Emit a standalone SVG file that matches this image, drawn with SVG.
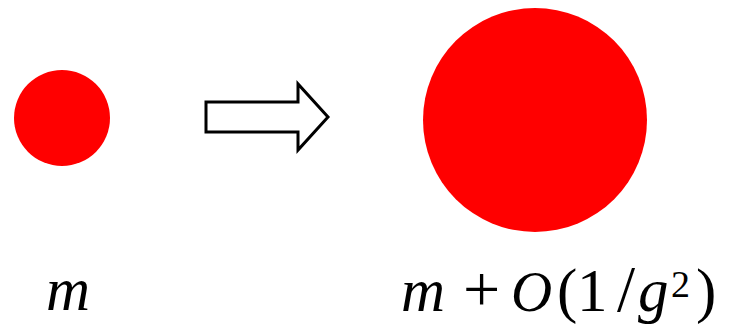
<svg xmlns="http://www.w3.org/2000/svg" width="736" height="325" viewBox="0 0 736 325">
<style>
.dot{fill:#ff0000}
.arr{fill:#fff;stroke:#000;stroke-width:3;stroke-linejoin:miter}
.t{font-family:"Liberation Serif","DejaVu Serif",serif;font-size:61px;fill:#000}
.i{font-style:italic}
</style>
<rect width="736" height="325" fill="#fff"/>
<g id="small"><circle class="dot" cx="62" cy="118" r="48"/></g>
<g id="connectors"><path class="arr" d="M206,102 H298 V84 L328,117 L298,150 V132 H206 Z"/></g>
<g id="large"><circle class="dot" cx="535" cy="120" r="112"/></g>
<g id="label-m"><text class="t i" x="46" y="310">m</text></g>
<g id="label-big"><text class="t" y="311"><tspan class="i" x="401">m</tspan><tspan x="463" font-size="66">+</tspan><tspan class="i" x="511" font-size="57">O</tspan><tspan x="557" font-size="61">(</tspan><tspan x="577">1</tspan><tspan x="617" font-size="65">/</tspan><tspan class="i" x="638">g</tspan><tspan x="671" y="297" font-size="38">2</tspan><tspan x="696" y="311">)</tspan></text></g>
</svg>
